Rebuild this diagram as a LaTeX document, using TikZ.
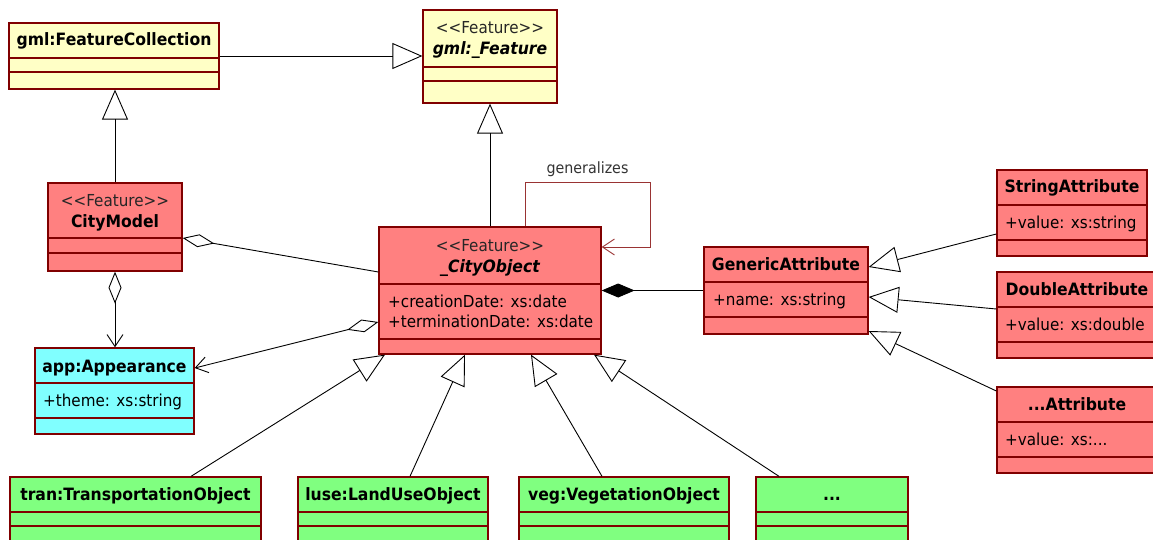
\documentclass[tikz,border=0pt]{standalone}
\usepackage{fontspec}
\setmainfont{DejaVu Sans}[Ligatures=TeXOff,FakeStretch=0.92]
\usetikzlibrary{arrows.meta,fit}

\definecolor{umlline}{HTML}{800000}
\definecolor{gmlyellow}{HTML}{FFFFC6}
\definecolor{corered}{HTML}{FF8080}
\definecolor{appcyan}{HTML}{80FFFF}
\definecolor{themegreen}{HTML}{80FF80}
\definecolor{selfline}{HTML}{993333}

% class box: name, fill, left, top, right, bottom, then the two compartment lines
\newcommand{\classbox}[8]{%
    \node[classbox,fill=#2,fit={(#3,#4) (#5,#6)}] (#1) {};
    \draw[compartment] (#3,#7) -- (#5,#7) (#3,#8) -- (#5,#8);
}
\newcommand{\umlfont}{\fontsize{16.5}{19}\selectfont}
\newcommand{\umlbold}{\fontsize{17}{19}\selectfont\bfseries}

\begin{document}
\begin{tikzpicture}[
    x=1pt,y=-1pt,
    font=\umlfont,
    classbox/.style={draw=umlline,line width=1.3pt,inner sep=0pt},
    compartment/.style={draw=umlline,line width=1.3pt},
    stereo/.style={inner sep=0pt,text height=12pt,text depth=0pt,text=black!85},
    cname/.style={stereo,text=black,font=\umlbold},
    aname/.style={cname,font=\umlbold\itshape},
    attr/.style={stereo,text=black,anchor=west},
    conn/.style={line width=0.9pt},
    gen/.style={conn,-{Triangle[open,length=30pt,width=26pt]}},
    aggr/.style={conn,{Diamond[open,length=32pt,width=13pt]}-},
    aggrnav/.style={conn,{Diamond[open,length=32pt,width=13pt]}-{Straight Barb[length=12pt,width=16pt]}},
    comp/.style={conn,{Diamond[length=33pt,width=14pt]}-},
    selfassoc/.style={conn,draw=selfline,-{Straight Barb[length=12pt,width=16pt]}},
]
    \useasboundingbox (0,0) rectangle (1153,540);
    \clip (0,0) rectangle (1153,540);

    % gml base classes
    \classbox{fc}{gmlyellow}{9}{23}{219}{89}{58}{72}
    \node[cname] (fc-name) at (114,40) {gml:FeatureCollection};
    \classbox{feat}{gmlyellow}{423}{10}{557}{103}{67}{81}
    \node[stereo] (feat-st) at (490,28) {<<Feature>>};
    \node[aname] (feat-name) at (490,49) {gml:\_Feature};

    % core module
    \classbox{cm}{corered}{48}{183}{182}{271}{238}{253}
    \node[stereo] (cm-st) at (115,200) {<<Feature>>};
    \node[cname] (cm-name) at (115,221) {CityModel};

    \classbox{co}{corered}{379}{227}{601}{354}{284}{339}
    \node[stereo] (co-st) at (490,245) {<<Feature>>};
    \node[aname] (co-name) at (490,266) {\_CityObject};
    \node[attr] (co-a1) at (388,301) {+creationDate: xs:date};
    \node[attr] (co-a2) at (388,321) {+terminationDate: xs:date};

    \classbox{app}{appcyan}{35}{348}{194}{434}{383}{418}
    \node[cname] (app-name) at (114.5,366) {app:Appearance};
    \node[attr] (app-a1) at (43,400) {+theme: xs:string};

    % generic attributes
    \classbox{ga}{corered}{704}{247}{868}{334}{282}{317}
    \node[cname] (ga-name) at (786,264) {GenericAttribute};
    \node[attr] (ga-a1) at (713,299) {+name: xs:string};

    \classbox{sa}{corered}{997}{170}{1147}{256}{205}{240}
    \node[cname] (sa-name) at (1072,187) {StringAttribute};
    \node[attr] (sa-a1) at (1005,222) {+value: xs:string};
    \classbox{da}{corered}{997}{272}{1157}{358}{307}{342}
    \node[cname] (da-name) at (1077,289) {DoubleAttribute};
    \node[attr] (da-a1) at (1005,324) {+value: xs:double};
    \classbox{xa}{corered}{997}{387}{1157}{473}{422}{457}
    \node[cname] (xa-name) at (1077,404) {...Attribute};
    \node[attr] (xa-a1) at (1005,439) {+value: xs:...};

    % thematic modules
    \classbox{tran}{themegreen}{10}{477}{261}{560}{512}{526}
    \node[cname] (tran-name) at (135.5,494) {tran:TransportationObject};
    \classbox{luse}{themegreen}{298}{477}{488}{560}{512}{526}
    \node[cname] (luse-name) at (393,494) {luse:LandUseObject};
    \classbox{veg}{themegreen}{519}{477}{729}{560}{512}{526}
    \node[cname] (veg-name) at (624,494) {veg:VegetationObject};
    \classbox{more}{themegreen}{756}{477}{908}{560}{512}{526}
    \node[cname] (more-name) at (832,494) {...};

    % inheritance
    \draw[gen] (fc.east) -- (fc.east -| feat.west);
    \draw[gen] (cm.north) -- (cm.north |- fc.south);
    \draw[gen] (co.north) -- (co.north |- feat.south);
    \foreach \nm/\from/\to in {tran/55.5/-105,luse/17/-25,veg/-22/41,more/-53/104}
        \draw[gen] ([xshift=\from pt]\nm.north) -- ([xshift=\to pt]co.south);
    \foreach \nm/\from/\to in {sa/-21/23.5,da/6/-6.5,xa/39/-40.5}
        \draw[gen] ([yshift=\from pt]\nm.west) -- ([yshift=\to pt]ga.east);

    % aggregation and composition
    \draw[aggr] ([yshift=-11pt]cm.east) -- ([yshift=18.5pt]co.west);
    \draw[aggrnav] (cm.south) -- (cm.south |- app.north);
    \draw[aggrnav] ([yshift=-31.5pt]co.west) -- ([yshift=23pt]app.east);
    \draw[comp] (co.east) -- (co.east -| ga.west);

    % self association
    \coordinate (loop) at (650,182);
    \draw[selfassoc] ([xshift=35pt]co.north) |- node[pos=0.75,above=1pt,text=black!80,font=\fontsize{15.5}{18}\selectfont] (genlbl) {generalizes} (loop) |- ([yshift=43.5pt]co.east);
\end{tikzpicture}
\end{document}
